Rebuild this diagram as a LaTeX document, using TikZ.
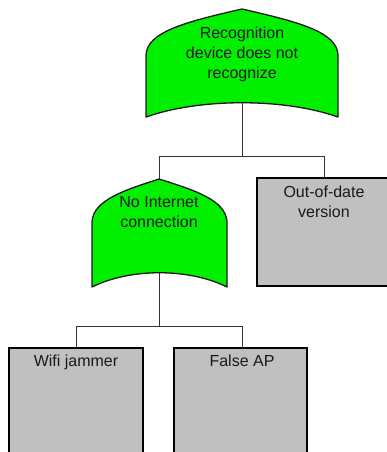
\documentclass[tikz,border=0pt]{standalone}
\usepackage{fontspec}
\setmainfont{Liberation Sans}
\definecolor{gategreen}{HTML}{00F000}
\definecolor{boxgray}{HTML}{C0C0C0}
\definecolor{wire}{HTML}{333333}
\begin{document}
\begin{tikzpicture}[x=1pt,y=-1pt,
  gate/.style={fill=gategreen,draw=black!90,line width=1.3pt,line join=round},
  event/.style={fill=boxgray,draw=black,line width=2pt},
  conn/.style={draw=wire,line width=1pt},
  label/.style={anchor=north,inner sep=0pt,align=center,font=\fontsize{16}{20}\selectfont,text=black!90}]
\useasboundingbox (0,0) rectangle (387,452);
\fill[white] (0,0) rectangle (387,452);
\clip (0,0) rectangle (387,452);

% top OR gate
\draw[gate] (242,9) .. controls (185,22) and (147,32) .. (146,55)
  -- (146,117) .. controls (200,98) and (284,98) .. (338,117)
  -- (338,55) .. controls (337,32) and (299,22) .. (242,9) -- cycle;
\node[label] (top) at (242,26.5) {Recognition\\device does not\\recognize};

% second OR gate
\draw[gate] (159,179) .. controls (125,190) and (93,200) .. (92,222)
  -- (92,287) .. controls (130,268) and (189,268) .. (227,287)
  -- (227,222) .. controls (226,200) and (194,190) .. (159,179) -- cycle;
\node[label] (net) at (159,196.5) {No Internet\\connection};

% basic events
\draw[event] (257,178) rectangle (400,286);
\node[label] (old) at (324,185.5) {Out-of-date\\version};
\draw[event] (9,348) rectangle (143,470);
\node[label] (wifi) at (76,354.5) {Wifi jammer};
\draw[event] (174,348) rectangle (307,470);
\node[label] (ap) at (242,354.5) {False AP};

% connector end points
\coordinate (topout) at (242,103);
\coordinate (netin) at (159,179);
\coordinate (oldin) at (324,178);
\coordinate (netout) at (159,273);
\coordinate (wifiin) at (76,348);
\coordinate (apin) at (242,348);

\draw[conn] (topout) -- (242,156) -| (netin);
\draw[conn] (242,156) -| (oldin);
\draw[conn] (netout) -- (159,326) -| (wifiin);
\draw[conn] (159,326) -| (apin);
\end{tikzpicture}
\end{document}
